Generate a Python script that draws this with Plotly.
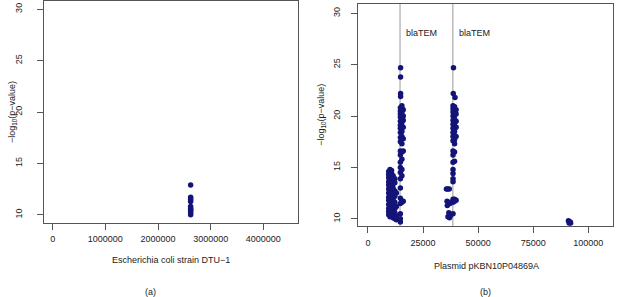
import plotly.graph_objects as go

# ---- data ----
chrom_pos = [2620000] * 10
chrom_logp = [12.9, 11.7, 11.5, 11.3, 10.8, 10.6, 10.4, 10.2, 10.0, 10.5]

plasmid_pos = (
    [9400] * 13 + [10000] * 14 + [10700] * 13 + [11400] * 10 + [12200] * 8 + [12900] * 4
    + [14800] * 4 + [14700] * 22 + [15400] * 15 + [16000] * 7
    + [35600, 36200, 36900, 35900, 36600, 37200, 36000, 36700, 37300, 36300, 37000, 37400]
    + [38800, 38700, 39500] + [38600] * 20 + [39300] * 14 + [40000] * 6
    + [91000, 91500, 92000, 91300, 91800]
)
plasmid_logp = (
    [14.6, 14.3, 14.0, 13.6, 13.3, 12.9, 12.5, 12.1, 11.8, 11.4, 11.0, 10.7, 10.4]
    + [14.8, 14.5, 14.1, 13.7, 13.4, 13.0, 12.6, 12.2, 11.9, 11.5, 11.1, 10.8, 10.5, 10.2]
    + [14.7, 14.4, 13.9, 13.5, 13.2, 12.8, 12.4, 12.0, 11.6, 11.2, 10.9, 10.6, 10.3]
    + [14.2, 13.8, 13.4, 13.0, 12.3, 11.9, 11.3, 10.9, 10.5, 10.1]
    + [13.9, 13.5, 12.7, 12.2, 11.6, 11.0, 10.6, 10.0]
    + [12.5, 11.2, 10.3, 9.9]
    + [24.7, 23.8, 22.2, 21.9]
    + [20.8, 20.5, 20.2, 19.9, 19.5, 19.1, 18.8, 18.4, 17.9, 17.5, 16.6, 16.2, 15.5, 15.0,
       14.5, 13.9, 13.0, 12.0, 11.5, 10.5, 10.0, 9.7]
    + [21.0, 20.7, 20.3, 19.8, 19.4, 19.0, 18.5, 18.0, 17.3, 16.5, 15.8, 14.8, 14.2, 11.7, 11.6]
    + [20.6, 20.0, 19.6, 18.9, 17.8, 16.6, 11.7]
    + [12.9, 12.9, 12.9, 11.7, 11.6, 11.5, 11.3, 10.6, 10.4, 10.2, 10.1, 10.3]
    + [24.7, 22.2, 21.8]
    + [21.0, 20.7, 20.4, 20.0, 19.6, 19.2, 18.8, 18.4, 18.0, 17.6, 16.6, 16.2, 15.5,
       14.8, 14.4, 13.9, 13.6, 11.9, 11.6, 10.5]
    + [20.9, 20.5, 20.1, 19.7, 19.3, 18.9, 18.5, 18.1, 17.7, 17.3, 16.5, 15.6, 11.9, 11.7]
    + [20.6, 20.2, 19.5, 18.9, 18.0, 11.8]
    + [9.8, 9.7, 9.6, 9.6, 9.7]
)

gene_pos = [14545, 38500]
gene_names = ["blaTEM", "blaTEM"]

chrom_ticks = [0, 1000000, 2000000, 3000000, 4000000]
plasmid_ticks = [0, 25000, 50000, 75000, 100000]
y_ticks = [10, 15, 20, 25, 30]

W, H = 617, 297
FONT = "Liberation Sans, Arial, sans-serif"
TXT = "#222222"
PT = "rgb(20,20,120)"
LINE = "#555555"

def px(x):
    return x / W

def py(y):
    return 1 - y / H

fig = go.Figure()
fig.add_trace(go.Scatter(x=chrom_pos, y=chrom_logp, mode="markers",
                         marker=dict(color=PT, size=5.5), xaxis="x", yaxis="y",
                         showlegend=False))
fig.add_trace(go.Scatter(x=plasmid_pos, y=plasmid_logp, mode="markers",
                         marker=dict(color=PT, size=5.5), xaxis="x2", yaxis="y2",
                         showlegend=False))

axis_common = dict(showline=True, linecolor=LINE, linewidth=1, mirror=True,
                   ticks="outside", ticklen=6, tickcolor=LINE, showgrid=False,
                   zeroline=False, tickfont=dict(family=FONT, size=9, color=TXT))

fig.update_layout(
    width=W, height=H, margin=dict(l=0, r=0, t=0, b=0),
    paper_bgcolor="white", plot_bgcolor="white",
    xaxis=dict(domain=[px(44), px(297.7)], range=[-165000, 4653000], anchor="y",
               tickvals=chrom_ticks, tickformat="d", ticklabelstandoff=2, **axis_common),
    yaxis=dict(domain=[py(222.5), py(1)], range=[9.25, 30.8], anchor="x",
               tickvals=y_ticks, tickangle=-90, ticklabelstandoff=11, **axis_common),
    xaxis2=dict(domain=[px(358.3), px(612.5)], range=[-4400, 111000], anchor="y2",
                tickvals=plasmid_ticks, tickformat="d", ticklabelstandoff=2, **axis_common),
    yaxis2=dict(domain=[py(226), py(4)], range=[9.3, 30.9], anchor="x2",
                tickvals=y_ticks, tickangle=-90, ticklabelstandoff=8, **axis_common),
)

for g, name in zip(gene_pos, gene_names):
    fig.add_shape(type="line", xref="x2", yref="y2 domain", x0=g, x1=g, y0=0, y1=1,
                  line=dict(color="#bbbbbb", width=1.5), layer="below")
    fig.add_annotation(x=g, y=28.05, xref="x2", yref="y2", text=name, showarrow=False,
                       xanchor="left", yanchor="middle", xshift=4,
                       font=dict(family=FONT, size=9, color=TXT))

def label(x, y, text, angle=0):
    fig.add_annotation(x=px(x), y=py(y), xref="paper", yref="paper", text=text,
                       textangle=angle, showarrow=False, xanchor="center",
                       yanchor="middle", font=dict(family=FONT, size=9, color=TXT))

ylab = "\u2212log<sub>10</sub>(p\u2212value)"
label(12, 112, ylab, -90)
label(320.7, 115, ylab, -90)
label(171, 260, "Escherichia coli strain DTU\u22121")
label(486.7, 265.7, "Plasmid pKBN10P04869A")
label(150, 292, "(a)")
label(485, 292, "(b)")

fig.write_html("out.html", config={"displayModeBar": False},
               post_script="document.body.style.margin='0';")
